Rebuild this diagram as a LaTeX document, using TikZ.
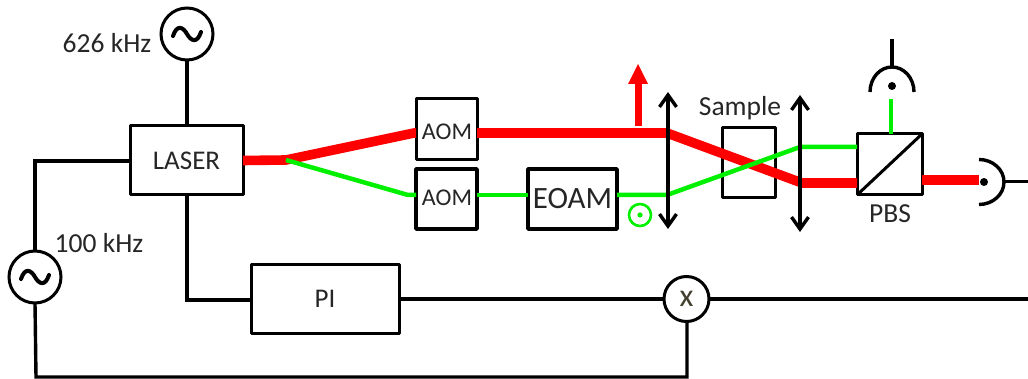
\documentclass[tikz,border=0pt]{standalone}
\usepackage{fontspec}
\setmainfont{Carlito}
\usetikzlibrary{arrows.meta}
\definecolor{beamred}{RGB}{255,0,0}
\definecolor{beamgreen}{RGB}{0,240,0}
\tikzset{
  x=1pt,y=-1pt,
  box/.style={draw,line width=3pt,fill=white,inner sep=0pt,outer sep=0pt,line join=round,font=\fontsize{27}{29}\selectfont,text=black!85},
  osc/.style={draw,circle,line width=3pt,fill=white,inner sep=0pt,outer sep=0pt,minimum size=52pt},
  wire/.style={line width=3.4pt,line join=miter},
  redbeam/.style={line width=9.6pt,beamred,line join=round},
  greenbeam/.style={line width=4.5pt,beamgreen,line join=round},
  lens/.style={line width=3.4pt,{Straight Barb[length=12pt,width=17pt,line width=3.4pt]}-{Straight Barb[length=12pt,width=17pt,line width=3.4pt]}},
  label/.style={inner sep=0pt,font=\fontsize{27.5}{29}\selectfont,text=black!85},
  aomlabel/.style={inner sep=0pt,font=\fontsize{24}{26}\selectfont,text=black!85},
  tilde/.style={line width=4pt,line cap=round}
}
\newcommand{\sinewave}[1]{\draw[tilde] ([shift={(-14pt,-2pt)}]#1.center) .. controls ([shift={(-10pt,10pt)}]#1.center) and ([shift={(-4pt,7pt)}]#1.center) .. (#1.center) .. controls ([shift={(4pt,-7pt)}]#1.center) and ([shift={(10pt,-10pt)}]#1.center) .. ([shift={(14pt,2pt)}]#1.center);}
\begin{document}
\begin{tikzpicture}
\useasboundingbox (0,0) rectangle (1028,379);
% nodes
\node[osc] (osctop) at (187,34) {};
\node[osc] (oscleft) at (35,277) {};
\node[box,minimum width=113pt,minimum height=69pt] (laser) at (186.5,160.5) {LASER};
\node[box,minimum width=148pt,minimum height=69pt] (pi) at (325,299) {PI};
\node[osc,minimum size=45pt,font=\fontsize{32}{34}\selectfont,text=black!70!olive] (mix) at (686.5,299) {x};
\node[box,minimum width=61pt,minimum height=61pt] (aoma) at (446.5,129.5) {};
\node[box,minimum width=61pt,minimum height=60pt,line width=3.6pt] (aomb) at (446.5,199) {};
\node[aomlabel] at (447,132) (aomatext) {AOM};
\node[aomlabel] at (447,198) (aombtext) {AOM};
\node[box,minimum width=89pt,minimum height=60pt,line width=3.6pt,font=\fontsize{31}{33}\selectfont] (eoam) at (572.5,199) {EOAM};
\node[box,minimum width=53pt,minimum height=70pt] (sample) at (748.5,163) {};
\node[box,minimum width=65pt,minimum height=61pt] (pbs) at (889.5,164.5) {};
\node[label] (freqa) at (107,43) {626 kHz};
\node[label] (freqb) at (99,243) {100 kHz};
\node[label] (samplelabel) at (740,108) {Sample};
\node[label] (pbslabel) at (890,214) {PBS};
% coordinates
\coordinate (split) at (286,160);
\coordinate (redin) at (414,133);
\coordinate (lensa) at (667,133);
\coordinate (lensb) at (802,183);
\coordinate (greenin) at (408,195);
\coordinate (glensa) at (667,195);
\coordinate (glensb) at (800,147);
\coordinate (cornerleft) at (35,161);
\coordinate (cornerpi) at (187,300);
\coordinate (cornerbl) at (36,377);
\coordinate (cornerbr) at (687,377);
\coordinate (wireend) at (1028,299);
\coordinate (topend) at (892,39);
\coordinate (topapex) at (892,67);
\coordinate (topdot) at (892,86);
\coordinate (rightapex) at (1004,182);
\coordinate (rightdot) at (984,182);
\coordinate (rightend) at (1028,182);
\coordinate (arrowbase) at (638,126);
\coordinate (arrowtip) at (638,64);
\coordinate (lensatop) at (668,92);
\coordinate (lensabot) at (668,229);
\coordinate (lensbtop) at (800,95);
\coordinate (lensbbot) at (800,232);
% wires
\draw[wire] (osctop.south) -- (laser.north -| osctop.south);
\draw[wire] (laser.west |- cornerleft) -- (cornerleft) -- (oscleft.north);
\draw[wire] (oscleft.south) -- (cornerbl) -- (cornerbr) -- (mix.south -| cornerbr);
\draw[wire] (laser.south -| cornerpi) -- (cornerpi) -- (pi.west |- cornerpi);
\draw[wire] (pi.east) -- (mix.west);
\draw[wire] (mix.east) -- (wireend);
\sinewave{osctop}
\sinewave{oscleft}
% red beams
\draw[redbeam] (laser.east) -- (split) -- (redin) -- (aoma.west |- redin);
\draw[redbeam] (aoma.east |- redin) -- (lensa) -- (lensb) -- (pbs.west |- lensb);
\draw[redbeam] (pbs.east |- 0,180) -- (979,180);
\draw[beamred,line width=7pt] (arrowbase) -- (638,80);
\fill[beamred] (arrowtip) -- (648,84) -- (628,84) -- cycle;
% green beams
\draw[greenbeam] (split) -- (greenin) -- (aomb.west |- greenin);
\draw[greenbeam] (aomb.east |- greenin) -- (eoam.west |- greenin);
\draw[greenbeam] (eoam.east |- greenin) -- (glensa) -- (glensb) -- (pbs.west |- glensb);
\draw[greenbeam] (pbs.north -| 891,0) -- (891,99);
\draw[beamgreen,line width=2.6pt] (640,215) circle (11pt);
\fill[beamgreen] (640,215) circle (2.6pt);
% lenses
\draw[lens] (lensatop) -- (lensabot);
\draw[lens] (lensbtop) -- (lensbbot);
% PBS diagonal
\draw[line width=3pt] (pbs.south west) -- (pbs.north east);
% detectors
\draw[wire] (870,92) arc[start angle=180,end angle=0,x radius=22pt,y radius=25pt];
\draw[wire] (topapex) -- (topend);
\fill (topdot) circle (4pt);
\draw[wire] (979,159.5) arc[start angle=90,end angle=-90,x radius=25pt,y radius=22.5pt];
\draw[wire,line width=3pt] (rightapex) -- (rightend);
\fill (rightdot) circle (4pt);
\end{tikzpicture}
\end{document}
